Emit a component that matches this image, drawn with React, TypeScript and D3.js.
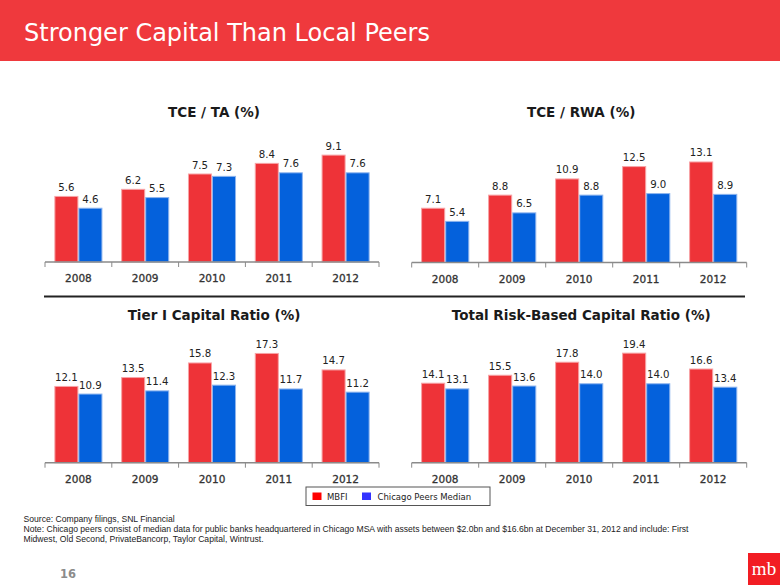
import React from "react";
import * as d3 from "d3";

const years = ["2008", "2009", "2010", "2011", "2012"];
const seriesNames = ["MBFI", "Chicago Peers Median"];

const tceTaMbfi = [5.6, 6.2, 7.5, 8.4, 9.1];
const tceTaPeers = [4.6, 5.5, 7.3, 7.6, 7.6];
const tceRwaMbfi = [7.1, 8.8, 10.9, 12.5, 13.1];
const tceRwaPeers = [5.4, 6.5, 8.8, 9.0, 8.9];
const tier1Mbfi = [12.1, 13.5, 15.8, 17.3, 14.7];
const tier1Peers = [10.9, 11.4, 12.3, 11.7, 11.2];
const totalRbMbfi = [14.1, 15.5, 17.8, 19.4, 16.6];
const totalRbPeers = [13.1, 13.6, 14.0, 14.0, 13.4];

const panelTitles = [
  "TCE / TA (%)",
  "TCE / RWA (%)",
  "Tier I Capital Ratio (%)",
  "Total Risk-Based Capital Ratio (%)",
];
const panelMax = [10, 15.3, 18.6, 20.8];

const RED = "#EE3338";
const BLUE = "#0461DC";
const FONT = "'DejaVu Sans', Verdana, sans-serif";

type Panel = {
  title: string;
  mbfi: number[];
  peers: number[];
  yMax: number;
  x0: number;
  x1: number;
  base: number;
  titleY: number;
};

const panels: Panel[] = [
  { title: panelTitles[0], mbfi: tceTaMbfi, peers: tceTaPeers, yMax: panelMax[0], x0: 45, x1: 379, base: 262, titleY: 116.5 },
  { title: panelTitles[1], mbfi: tceRwaMbfi, peers: tceRwaPeers, yMax: panelMax[1], x0: 411.7, x1: 746.7, base: 262.5, titleY: 116.5 },
  { title: panelTitles[2], mbfi: tier1Mbfi, peers: tier1Peers, yMax: panelMax[2], x0: 45, x1: 379, base: 462.7, titleY: 320 },
  { title: panelTitles[3], mbfi: totalRbMbfi, peers: totalRbPeers, yMax: panelMax[3], x0: 411.7, x1: 746.7, base: 462.7, titleY: 320 },
];

function ChartPanel({ p }: { p: Panel }) {
  const x = d3.scaleBand<string>().domain(years).range([p.x0, p.x1]).padding(0);
  const xs = d3
    .scaleBand<string>()
    .domain(seriesNames)
    .range([0, x.bandwidth()])
    .paddingInner(0)
    .paddingOuter(0.39);
  const y = d3.scaleLinear().domain([0, p.yMax]).range([p.base, p.base - 118]);
  const ticks = [...years.map((yr) => x(yr) as number), p.x1];
  const vals = [p.mbfi, p.peers];
  const cols = [RED, BLUE];
  const strokes = ["#F7A3A6", "#8DB4EE"];
  return (
    <g>
      <text
        x={(p.x0 + p.x1) / 2 + 2}
        y={p.titleY}
        textAnchor="middle"
        fontFamily={FONT}
        fontWeight="bold"
        fontSize={13.5}
        fill="#1a1a1a"
      >
        {p.title}
      </text>
      {years.map((yr, i) =>
        seriesNames.map((s, j) => {
          const v = vals[j][i];
          const bx = (x(yr) as number) + (xs(s) as number);
          const bw = xs.bandwidth();
          return (
            <g key={yr + s}>
              <rect
                x={bx + 0.5}
                y={y(v) + 0.5}
                width={bw - 1}
                height={p.base - y(v) - 0.5}
                fill={cols[j]}
                stroke={strokes[j]}
                strokeWidth={1}
              />
              <text
                x={bx + bw / 2}
                y={y(v) - 5}
                textAnchor="middle"
                fontFamily={FONT}
                fontSize={10.2}
                fill="#222"
              >
                {v.toFixed(1)}
              </text>
            </g>
          );
        })
      )}
      <line x1={p.x0} x2={p.x1} y1={p.base} y2={p.base} stroke="#8a8a8a" strokeWidth={1.5} />
      {ticks.map((t, i) => (
        <line key={i} x1={t} x2={t} y1={p.base} y2={p.base + 5} stroke="#8a8a8a" strokeWidth={1} />
      ))}
      {years.map((yr) => (
        <text
          key={yr}
          x={(x(yr) as number) + x.bandwidth() / 2}
          y={p.base + 20}
          textAnchor="middle"
          fontFamily={FONT}
          fontSize={10.5}
          fill="#333"
          stroke="#333"
          strokeWidth={0.3}
        >
          {yr}
        </text>
      ))}
    </g>
  );
}

export default function App() {
  return (
    <svg
      width={780}
      height={585}
      viewBox="0 0 780 585"
      style={{ position: "absolute", left: 0, top: 0, background: "#fff" }}
    >
      <rect x={0} y={0} width={780} height={585} fill="#fff" />
      <rect x={0} y={0} width={780} height={61} fill="#EF393D" />
      <text x={24} y={40.5} fontFamily={FONT} fontSize={24} fill="#fff">
        Stronger Capital Than Local Peers
      </text>

      {panels.map((p, i) => (
        <ChartPanel key={i} p={p} />
      ))}

      <line x1={44} x2={745} y1={296.5} y2={296.5} stroke="#222" strokeWidth={2} />

      <g>
        <rect x={306} y={487} width={184} height={18.5} fill="#fff" stroke="#555" strokeWidth={1} />
        <rect x={312.5} y={492.5} width={9} height={7.5} fill="#FF0000" />
        <text x={327} y={499.5} fontFamily={FONT} fontSize={8.5} fill="#222">
          {seriesNames[0]}
        </text>
        <rect x={362} y={492.5} width={9} height={7.5} fill="#3333FF" />
        <text x={377.5} y={499.5} fontFamily={FONT} fontSize={8.5} fill="#222">
          {seriesNames[1]}
        </text>
      </g>

      <g fontFamily="'Liberation Sans', Arial, sans-serif" fontSize={8.6} fill="#222">
        <text x={23.5} y={521.5}>Source: Company filings, SNL Financial</text>
        <text x={23.5} y={531.5}>
          Note: Chicago peers consist of median data for public banks headquartered in Chicago MSA with assets between $2.0bn and $16.6bn at December 31, 2012 and include: First
        </text>
        <text x={23.5} y={541.5}>Midwest, Old Second, PrivateBancorp, Taylor Capital, Wintrust.</text>
      </g>

      <text x={60} y={577.5} fontFamily={FONT} fontWeight="bold" fontSize={11.5} fill="#8c8c8c">
        16
      </text>

      <rect x={748} y={553} width={32} height={32} fill="#F21D23" />
      <text
        x={764}
        y={575}
        textAnchor="middle"
        fontFamily="'Liberation Serif', 'DejaVu Serif', serif"
        fontSize={19}
        fill="#fff"
      >
        mb
      </text>
    </svg>
  );
}
